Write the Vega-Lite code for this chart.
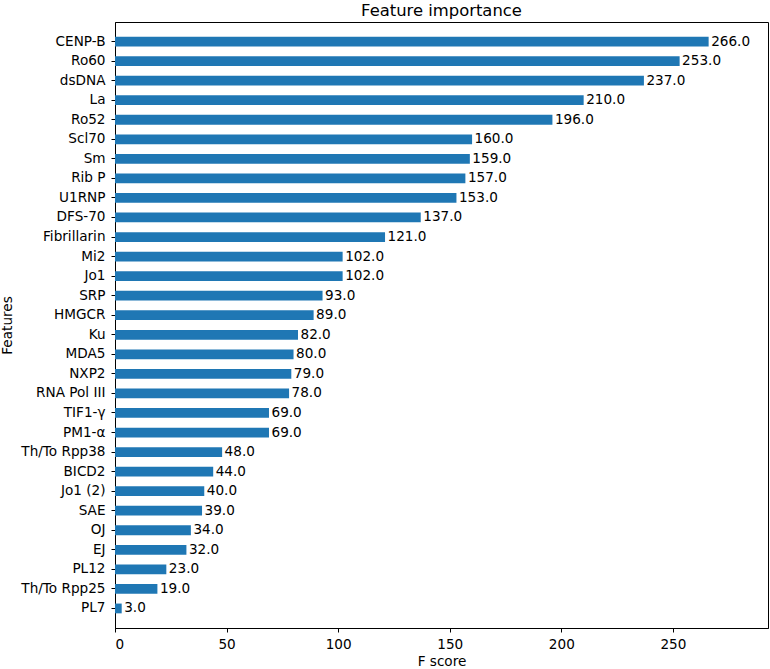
{
  "$schema": "https://vega.github.io/schema/vega-lite/v6.json",
  "width": 653,
  "height": 606,
  "autosize": {"type": "none"},
  "padding": {"left": 115, "top": 22, "right": 2, "bottom": 41},
  "config": {
    "font": "DejaVu Sans",
    "view": {"stroke": "black", "strokeWidth": 1},
    "axis": {
      "grid": false,
      "domainColor": "black",
      "tickColor": "black",
      "tickSize": 4,
      "labelColor": "black",
      "titleColor": "black",
      "labelFontSize": 13.6,
      "titleFontSize": 13.6,
      "titleFontWeight": "normal",
      "labelPadding": 5
    }
  },
  "title": {
    "text": "Feature importance",
    "fontSize": 16.4,
    "fontWeight": "normal",
    "color": "black",
    "anchor": "middle",
    "offset": 3
  },
  "data": {
    "values": [
      {"feature": "CENP-B", "score": 266},
      {"feature": "Ro60", "score": 253},
      {"feature": "dsDNA", "score": 237},
      {"feature": "La", "score": 210},
      {"feature": "Ro52", "score": 196},
      {"feature": "Scl70", "score": 160},
      {"feature": "Sm", "score": 159},
      {"feature": "Rib P", "score": 157},
      {"feature": "U1RNP", "score": 153},
      {"feature": "DFS-70", "score": 137},
      {"feature": "Fibrillarin", "score": 121},
      {"feature": "Mi2", "score": 102},
      {"feature": "Jo1", "score": 102},
      {"feature": "SRP", "score": 93},
      {"feature": "HMGCR", "score": 89},
      {"feature": "Ku", "score": 82},
      {"feature": "MDA5", "score": 80},
      {"feature": "NXP2", "score": 79},
      {"feature": "RNA Pol III", "score": 78},
      {"feature": "TIF1-γ", "score": 69},
      {"feature": "PM1-α", "score": 69},
      {"feature": "Th/To Rpp38", "score": 48},
      {"feature": "BICD2", "score": 44},
      {"feature": "Jo1 (2)", "score": 40},
      {"feature": "SAE", "score": 39},
      {"feature": "OJ", "score": 34},
      {"feature": "EJ", "score": 32},
      {"feature": "PL12", "score": 23},
      {"feature": "Th/To Rpp25", "score": 19},
      {"feature": "PL7", "score": 3}
    ]
  },
  "encoding": {
    "y": {
      "field": "feature",
      "type": "nominal",
      "sort": null,
      "scale": {"paddingInner": 0.5, "paddingOuter": 0.75},
      "axis": {"title": "Features", "titlePadding": 6, "labelPadding": 6}
    },
    "x": {
      "field": "score",
      "type": "quantitative",
      "scale": {"domain": [0, 292.6], "nice": false},
      "axis": {"title": "F score", "values": [0, 50, 100, 150, 200, 250], "titlePadding": 4}
    }
  },
  "layer": [
    {"mark": {"type": "bar", "color": "#1f77b4"}},
    {
      "mark": {"type": "text", "align": "left", "baseline": "middle", "dx": 2.5, "fontSize": 13.6, "color": "black"},
      "encoding": {"text": {"field": "score", "type": "quantitative", "format": ".1f"}}
    }
  ]
}
